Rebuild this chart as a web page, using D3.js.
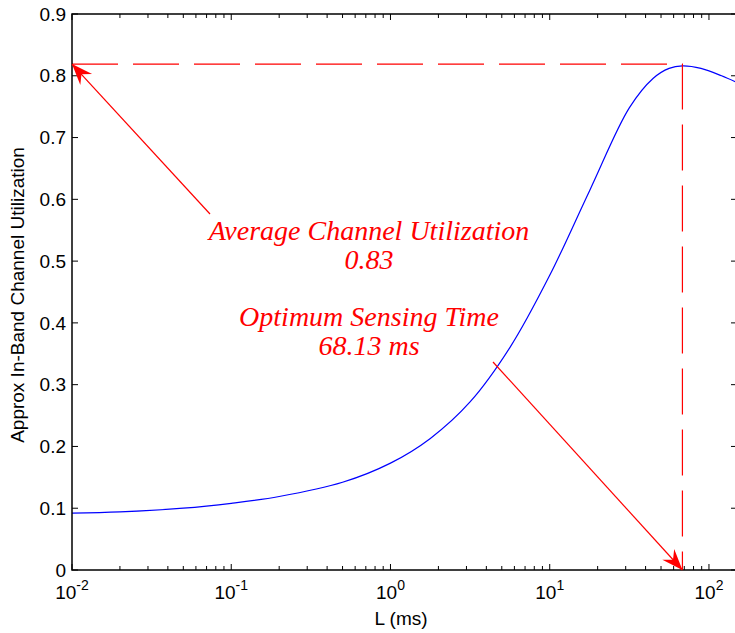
<!DOCTYPE html>
<html>
<head>
<meta charset="utf-8">
<script src="https://cdn.jsdelivr.net/npm/d3@7"></script>
<style>
  body { margin: 0; background: #fff; }
  svg { display: block; }
  .tick-label { font-family: "Liberation Sans", Arial, sans-serif; font-size: 19px; fill: #000; }
  .note { font-family: "Liberation Serif", "Times New Roman", serif; font-style: italic; font-size: 28px; fill: #ff0000; }
</style>
</head>
<body>
<div id="chart"></div>
<script>
// curve: sensing time L (ms) vs utilization
var L = [0.01, 0.02, 0.05, 0.1, 0.2, 0.5, 1, 1.78, 3.16, 5.62, 10, 17.8, 31.6, 44.7, 56.2, 68.13, 89.1, 120, 150];
var U = [0.092, 0.094, 0.100, 0.108, 0.119, 0.142, 0.173, 0.213, 0.272, 0.360, 0.477, 0.614, 0.748, 0.796, 0.812, 0.816, 0.812, 0.800, 0.789];

var yTicks = [0, 0.1, 0.2, 0.3, 0.4, 0.5, 0.6, 0.7, 0.8, 0.9];
var xDecades = [-2, -1, 0, 1, 2];

var optL = 68.13, peakU = 0.819;
var noteLines = ["Average Channel Utilization", "0.83", "Optimum Sensing Time", "68.13 ms"];

var W = 735, H = 633;
var margin = {top: 14, left: 72, bottom: 63, right: -2};

var svg = d3.select("#chart").append("svg")
    .attr("width", W)
    .attr("height", H);

var x = d3.scaleLog()
    .domain([0.01, 150])
    .range([margin.left, W - margin.right]);
var y = d3.scaleLinear()
    .domain([0, 0.9])
    .range([H - margin.bottom, margin.top]);

var x0 = x.range()[0], x1 = x.range()[1], y0 = y.range()[0], y1 = y.range()[1];

////////// curve //////////
var line = d3.line()
    .x(function(d, i) { return x(L[i]); })
    .y(function(d) { return y(d); })
    .curve(d3.curveCatmullRom);

svg.append("path")
    .datum(U)
    .attr("d", line)
    .attr("fill", "none")
    .attr("stroke", "#0000ff")
    .attr("stroke-width", 1.2);

////////// dashed guides //////////
svg.append("path")
    .attr("d", "M" + x0 + "," + y(peakU) + "H" + x(optL) + "V" + y0)
    .attr("fill", "none")
    .attr("stroke", "#ff0000")
    .attr("stroke-width", 1.2)
    .attr("stroke-dasharray", "46,15");

////////// axes box and ticks //////////
var axes = svg.append("g").attr("stroke", "#000").attr("fill", "none");

axes.append("rect")
    .attr("x", x0).attr("y", y1)
    .attr("width", x1 - x0).attr("height", y0 - y1)
    .attr("stroke-width", 1.5);

yTicks.forEach(function(t) {
  axes.append("line").attr("x1", x0).attr("x2", x0 + 6).attr("y1", y(t)).attr("y2", y(t));
  axes.append("line").attr("x1", x1).attr("x2", x1 - 6).attr("y1", y(t)).attr("y2", y(t));
});

x.ticks().forEach(function(t) {
  var major = Math.abs(Math.log10(t) - Math.round(Math.log10(t))) < 1e-9;
  var len = major ? 6 : 4;
  axes.append("line").attr("x1", x(t)).attr("x2", x(t)).attr("y1", y0).attr("y2", y0 - len);
  axes.append("line").attr("x1", x(t)).attr("x2", x(t)).attr("y1", y1).attr("y2", y1 + len);
});

svg.selectAll(".ylab")
    .data(yTicks)
    .enter().append("text")
    .attr("class", "tick-label")
    .attr("x", x0 - 6)
    .attr("y", function(d) { return y(d); })
    .attr("dy", "0.35em")
    .attr("text-anchor", "end")
    .text(function(d) { return d === 0 ? "0" : d3.format(".1f")(d); });

var xl = svg.selectAll(".xlab")
    .data(xDecades)
    .enter().append("text")
    .attr("class", "tick-label")
    .attr("x", function(d) { return x(Math.pow(10, d)); })
    .attr("y", 599)
    .attr("text-anchor", "middle");
xl.append("tspan").text("10");
xl.append("tspan").attr("dy", -9).style("font-size", "14px").text(function(d) { return d; });

svg.append("text")
    .attr("class", "tick-label")
    .attr("x", 401)
    .attr("y", 625)
    .attr("text-anchor", "middle")
    .text("L (ms)");

svg.append("text")
    .attr("class", "tick-label")
    .attr("transform", "translate(24," + ((y0 + y1) / 2 + 3) + ") rotate(-90)")
    .attr("text-anchor", "middle")
    .text("Approx In-Band Channel Utilization");

////////// annotation //////////
var noteY = [240, 269, 326, 355];
svg.selectAll(".note")
    .data(noteLines)
    .enter().append("text")
    .attr("class", "note")
    .attr("x", 369)
    .attr("y", function(d, i) { return noteY[i]; })
    .attr("text-anchor", "middle")
    .text(function(d) { return d; });

function arrow(sx, sy, tx, ty) {
  svg.append("line")
      .attr("x1", sx).attr("y1", sy).attr("x2", tx).attr("y2", ty)
      .attr("stroke", "#ff0000").attr("stroke-width", 1.2);
  var a = Math.atan2(ty - sy, tx - sx);
  var len = 21, wid = 8, back = 14;
  var p = function(l, w) {
    return [tx - l * Math.cos(a) - w * Math.sin(a), ty - l * Math.sin(a) + w * Math.cos(a)];
  };
  var pts = [[tx, ty], p(len, wid), p(back, 0), p(len, -wid)];
  svg.append("path")
      .attr("d", "M" + pts.join("L") + "Z")
      .attr("fill", "#ff0000");
}

arrow(210, 214, x0, y(peakU));
arrow(493, 362, x(optL), y0);
</script>
</body>
</html>
